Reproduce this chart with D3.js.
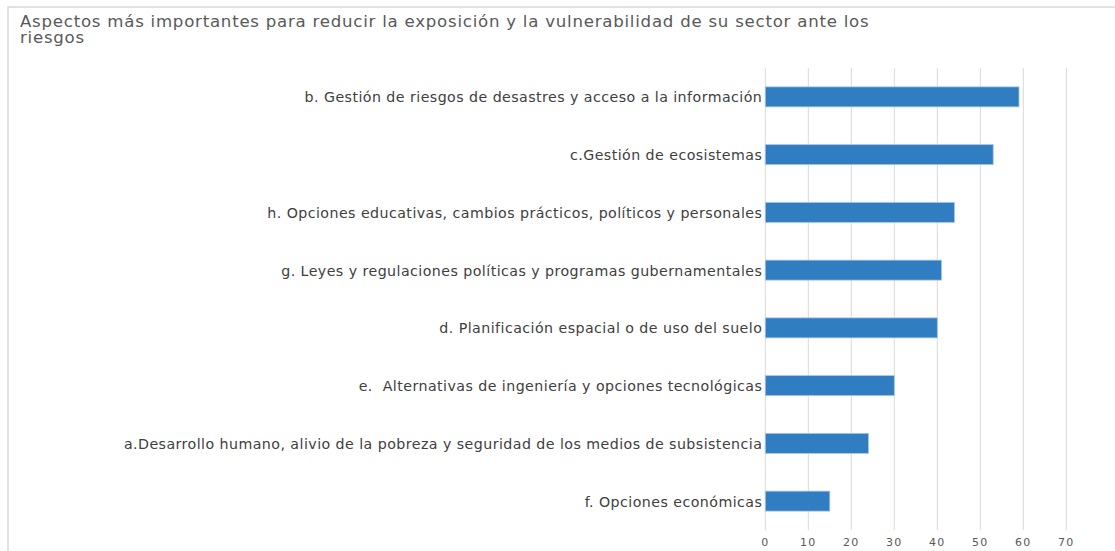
<!DOCTYPE html>
<html><head><meta charset="utf-8">
<script src="https://cdn.jsdelivr.net/npm/d3@7"></script>
<style>
html,body{margin:0;padding:0;background:#fff;overflow:hidden;}
</style></head>
<body>
<svg id="c" width="1115" height="551"></svg>
<script>
const categories = [
  "b. Gestión de riesgos de desastres y acceso a la información",
  "c.Gestión de ecosistemas",
  "h. Opciones educativas, cambios prácticos, políticos y personales",
  "g. Leyes y regulaciones políticas y programas gubernamentales",
  "d. Planificación espacial o de uso del suelo",
  "e.  Alternativas de ingeniería y opciones tecnológicas",
  "a.Desarrollo humano, alivio de la pobreza y seguridad de los medios de subsistencia",
  "f. Opciones económicas"
];
const values = [59, 53, 44, 41, 40, 30, 24, 15];
const tickValues = [0, 10, 20, 30, 40, 50, 60, 70];
const titleLines = ["Aspectos más importantes para reducir la exposición y la vulnerabilidad de su sector ante los", "riesgos"];

(function () {
const svg = d3.select("#c");
const font = "'DejaVu Sans', Verdana, sans-serif";

// chart border
svg.append("rect").attr("x", 8).attr("y", 7).attr("width", 1120).attr("height", 560)
  .attr("fill", "none").attr("stroke", "#d9d9d9").attr("stroke-width", 1.5);

// title
svg.append("text").attr("x", 20).attr("y", 27)
  .attr("font-family", font).attr("font-size", 16.6).attr("fill", "#595959")
  .attr("letter-spacing", "0.76px").style("white-space", "pre")
  .selectAll("tspan").data(titleLines).join("tspan")
  .attr("x", 20).attr("dy", (d, i) => i === 0 ? 0 : 16).text(d => d);

const pLeft = 765.3, pRight = 1066.3, pTop = 68, pBottom = 530;
const x = d3.scaleLinear().domain([0, 70]).range([pLeft, pRight]);
const y = d3.scaleBand().domain(categories).range([pTop, pBottom]).paddingInner(0.654).paddingOuter(0.327);

// gridlines
svg.append("g").selectAll("line").data(tickValues).join("line")
  .attr("x1", d => x(d)).attr("x2", d => x(d))
  .attr("y1", pTop).attr("y2", pBottom)
  .attr("stroke", "#d9d9d9").attr("stroke-width", 1);

// bars
svg.append("g").selectAll("rect").data(values).join("rect")
  .attr("x", x(0))
  .attr("y", (d, i) => y(categories[i]))
  .attr("width", d => x(d) - x(0))
  .attr("height", y.bandwidth())
  .attr("fill", "#317dc1")
  .attr("stroke", "#a6c6e6").attr("stroke-width", 0.8);

// x axis tick labels
const xAxis = d3.axisBottom(x).tickValues(tickValues).tickSize(0).tickPadding(0);
const gx = svg.append("g").attr("transform", `translate(-0.5,${pBottom + 8})`).call(xAxis);
gx.select(".domain").remove();
gx.selectAll("text").attr("font-family", font).attr("font-size", 11)
  .attr("fill", "#595959").attr("letter-spacing", "1.2px").attr("dy", "0.71em");

// y axis labels
const yAxis = d3.axisLeft(y).tickSize(0).tickPadding(3);
const gy = svg.append("g").attr("transform", `translate(${pLeft},1)`).call(yAxis);
gy.select(".domain").remove();
gy.selectAll("text").attr("font-family", font).attr("font-size", 14.2)
  .attr("fill", "#404040").attr("letter-spacing", "0.45px").style("white-space", "pre");
})();
</script>
</body></html>
